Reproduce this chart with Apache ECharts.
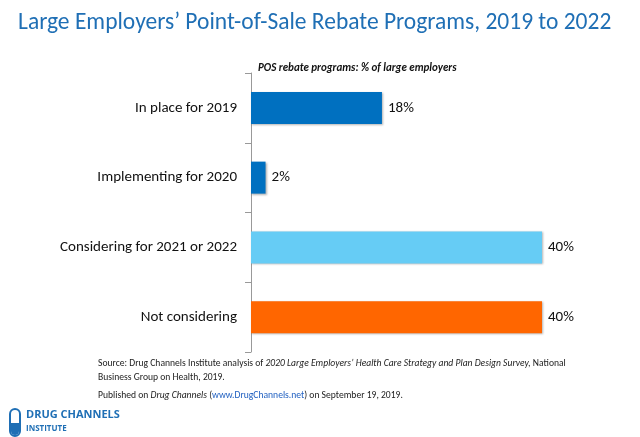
<!DOCTYPE html>
<html><head><meta charset="utf-8">
<script src="https://cdn.jsdelivr.net/npm/echarts@6/dist/echarts.min.js"></script>
<style>html,body{margin:0;padding:0;background:#fff}#c{width:640px;height:437px}</style>
</head><body><div id="c"></div>
<script>
const categories = ['In place for 2019','Implementing for 2020','Considering for 2021 or 2022','Not considering'];
const values = [18, 2, 40, 40];
const colors = ['#0070C0','#0070C0','#66CCF5','#FF6600'];
const chart = echarts.init(document.getElementById('c'));
const F = 'Carlito, Calibri, "Open Sans", sans-serif';
chart.setOption({
  animation:false,
  title:[
    {text:'Large Employers\u2019 Point-of-Sale Rebate Programs, 2019 to 2022',left:13,top:6,textStyle:{color:'#1F6FB5',fontSize:23.5,fontWeight:'normal',fontFamily:F}},
    {text:'POS rebate programs: % of large employers',left:253,top:58,textStyle:{color:'#111',fontSize:11,fontStyle:'italic',fontWeight:'bold',fontFamily:F}}
  ],
  graphic:[
    {type:'text',left:98,top:357,style:{rich:{n:{fontSize:9.6,fontFamily:F,fill:'#222'},i:{fontSize:9.6,fontFamily:F,fill:'#222',fontStyle:'italic'}},text:'{n|Source: Drug Channels Institute analysis of }{i|2020 Large Employers\u2019 Health Care Strategy and Plan Design Survey,}{n| National}\n{n|Business Group on Health, 2019.}',lineHeight:14}},
    {type:'text',left:98,top:391,style:{rich:{n:{fontSize:9.6,fontFamily:F,fill:'#222'},i:{fontSize:9.6,fontFamily:F,fill:'#222',fontStyle:'italic'},u:{fontSize:9.6,fontFamily:F,fill:'#1F5FC0',textDecoration:'underline'}},text:'{n|Published on }{i|Drug Channels}{n| (}{u|www.DrugChannels.net}{n|) on September 19, 2019.}'}},
    {type:'rect',shape:{x:10,y:409,width:10,height:27,r:5},style:{fill:'#fff',stroke:'#1F6FB5',lineWidth:2}},
    {type:'rect',shape:{x:11,y:423,width:8,height:12,r:[0,0,4,4]},style:{fill:'#1F6FB5'}},
    {type:'text',left:26,top:409,style:{text:'DRUG CHANNELS',fontSize:11,fontWeight:'bold',fill:'#1F6FB5',fontFamily:'"Open Sans",sans-serif'}},
    {type:'text',left:26,top:425,style:{text:'INSTITUTE',fontSize:8,fontWeight:'bold',fill:'#1F6FB5',fontFamily:'"Open Sans",sans-serif'}}
  ],
  grid:{left:251,right:98,top:73,bottom:85},
  xAxis:{type:'value',min:0,max:40,show:false},
  yAxis:{type:'category',data:categories,inverse:true,
    axisLine:{lineStyle:{color:'#999'}},axisTick:{show:true,length:6,lineStyle:{color:'#999'}},
    axisLabel:{color:'#111',fontSize:15,fontFamily:F,margin:14}},
  series:[{type:'bar',data:values.map((v,i)=>({value:v,itemStyle:{color:colors[i]}})),barWidth:32,
    itemStyle:{shadowColor:'rgba(0,0,0,0.3)',shadowOffsetX:1,shadowOffsetY:1,shadowBlur:2},
    label:{show:true,position:'right',formatter:'{c}%',color:'#111',fontSize:15,fontFamily:F,distance:6}}]
});
</script></body></html>
